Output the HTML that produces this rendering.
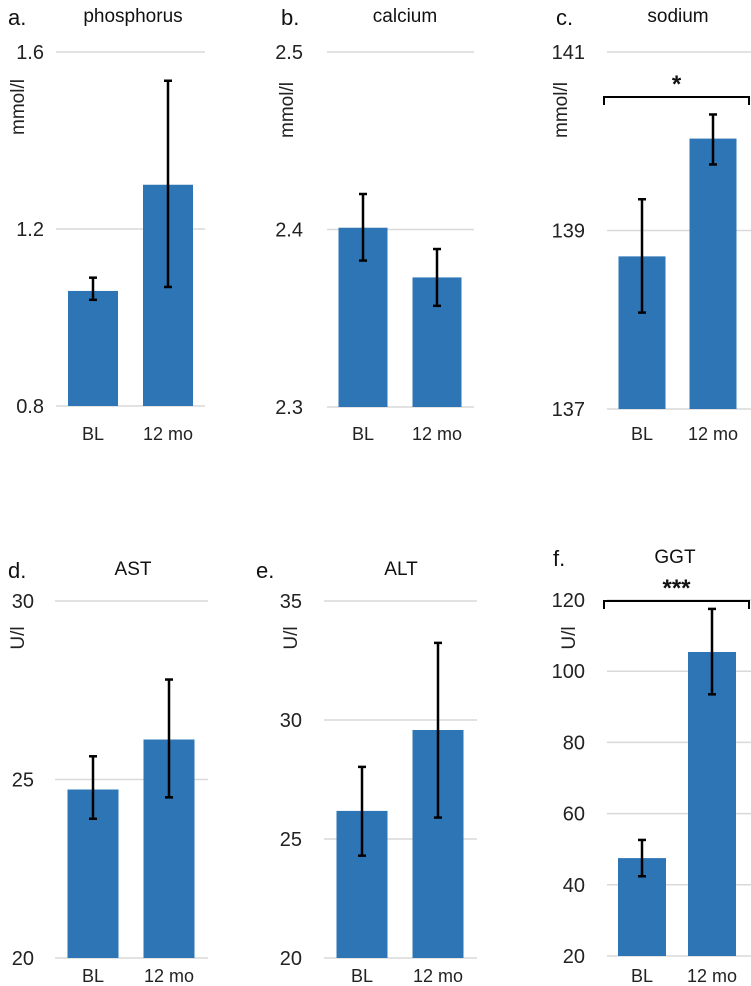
<!DOCTYPE html>
<html><head><meta charset="utf-8"><style>
body{margin:0;background:#fff;}
svg{display:block;font-family:"Liberation Sans",sans-serif;}
</style></head><body>
<svg id="chart" width="751" height="986" viewBox="0 0 751 986"></svg>
<script>
const panelLetters = ["a.","b.","c.","d.","e.","f."];
const panelTitles = ["phosphorus","calcium","sodium","AST","ALT","GGT"];
const units = ["mmol/l","mmol/l","mmol/l","U/l","U/l","U/l"];
const categories = ["BL","12 mo"];
const means = [[1.06,1.30],[2.401,2.373],[138.71,140.03],[24.72,26.12],[26.18,29.58],[47.5,105.4]];
const errLow = [[1.04,1.069],[2.3825,2.357],[138.08,139.74],[23.9,24.5],[24.3,25.9],[42.4,93.5]];
const errHigh = [[1.09,1.535],[2.420,2.389],[139.35,140.3],[25.65,27.8],[28.03,33.24],[52.6,117.5]];
const tickValues = [[0.8,1.2,1.6],[2.3,2.4,2.5],[137,139,141],[20,25,30],[20,25,30,35],[20,40,60,80,100,120]];
const tickLabels = [["0.8","1.2","1.6"],["2.3","2.4","2.5"],["137","139","141"],["20","25","30"],["20","25","30","35"],["20","40","60","80","100","120"]];
const significance = ["","","*","","","***"];

const NS="http://www.w3.org/2000/svg";
const svg=document.getElementById("chart");
function mk(tag,attrs,parent){const e=document.createElementNS(NS,tag);for(const k in attrs)e.setAttribute(k,attrs[k]);(parent||svg).appendChild(e);return e;}
const layout=[
 {gx0:56,gx1:205,top:52,bot:406,cx:[93,168],bw:50,lab:44,ax:17,ay:107,lx:8,tx:133,ty:22,xly:440,by:0},
 {gx0:327,gx1:474,top:52,bot:407,cx:[363,437],bw:49,lab:303,ax:286,ay:110,lx:281,tx:405,ty:22,xly:440,by:0},
 {gx0:607,gx1:751,top:52,bot:409,cx:[642,713],bw:47,lab:585,ax:560,ay:110,lx:556,tx:678,ty:22,xly:440,by:97},
 {gx0:55,gx1:208,top:601,bot:958,cx:[93,169],bw:51,lab:34,ax:17,ay:638,lx:8,tx:133,ty:575,xly:982,by:0},
 {gx0:324,gx1:477,top:601,bot:958,cx:[362,438],bw:51,lab:302,ax:290,ay:638,lx:256,tx:401,ty:575,xly:982,by:0},
 {gx0:607,gx1:751,top:600,bot:956,cx:[642,712],bw:48,lab:585,ax:568,ay:638,lx:553,tx:675,ty:563,xly:982,by:601}
];
layout.forEach((L,p)=>{
 const g=mk("g",{});
 
 
 const tv=tickValues[p];const mn=tv[0],mx=tv[tv.length-1];
 const y=v=>L.bot-(v-mn)/(mx-mn)*(L.bot-L.top);
 tv.forEach((t,i)=>{
  const gl=mk("line",{x1:L.gx0,x2:L.gx1,y1:y(t),y2:y(t),stroke:"#d9d9d9","stroke-width":1.5},g);
  
  
  const tl=mk("text",{x:L.lab,y:y(t)+7,"text-anchor":"end","font-size":20,fill:"#222"},g);
  tl.textContent=tickLabels[p][i];
  
  
 });
 categories.forEach((c,i)=>{
  const bar=mk("rect",{x:L.cx[i]-L.bw/2,y:y(means[p][i]),width:L.bw,height:L.bot-y(means[p][i]),fill:"#2e75b6"},g);
  
  
  const eg=mk("g",{stroke:"#000","stroke-width":2.5},g);
  
  
  const yl=y(errLow[p][i]),yh=y(errHigh[p][i]);
  mk("line",{x1:L.cx[i],x2:L.cx[i],y1:yl,y2:yh},eg);
  mk("line",{x1:L.cx[i]-4,x2:L.cx[i]+4,y1:yl,y2:yl},eg);
  mk("line",{x1:L.cx[i]-4,x2:L.cx[i]+4,y1:yh,y2:yh},eg);
  const xl=mk("text",{x:L.cx[i],y:L.xly,"text-anchor":"middle","font-size":18,fill:"#222"},g);
  xl.textContent=c;
  
  
 });
 const at=mk("text",{x:L.ax+7,y:L.ay,"font-size":19,fill:"#222",transform:`rotate(-90 ${L.ax+7} ${L.ay})`,"text-anchor":"middle"},g);
 at.textContent=units[p];
 
 
 const lt=mk("text",{x:L.lx,y:L.ty+3,"font-size":22,fill:"#111"},g);
 lt.textContent=panelLetters[p];
 
 
 const tt=mk("text",{x:L.tx,y:L.ty,"text-anchor":"middle","font-size":19,fill:"#111"},g);
 tt.textContent=panelTitles[p];
 
 
 if(significance[p]){
  const by=L.by;
  const bx0=L.gx0-3,bx1=L.gx1-2;
  const br=mk("path",{d:`M${bx0} ${by+8}V${by}H${bx1}V${by+8}`,fill:"none",stroke:"#000","stroke-width":2},g);
  
  
  const st=mk("text",{x:(bx0+bx1)/2,y:by-5,"text-anchor":"middle","font-size":24,"font-weight":"bold",fill:"#111"},g);
  st.textContent=significance[p];
  
  
 }
});
</script>
</body></html>
